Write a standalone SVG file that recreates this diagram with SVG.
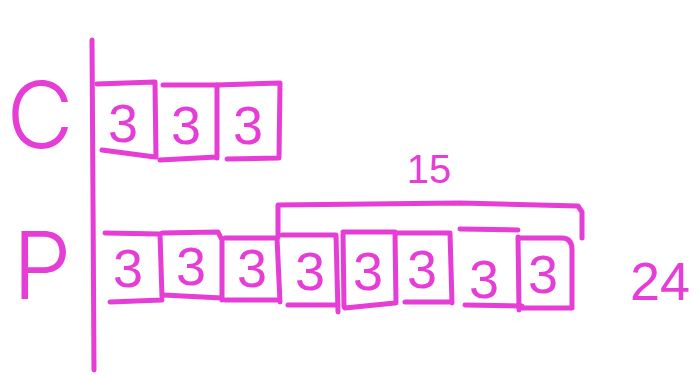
<svg xmlns="http://www.w3.org/2000/svg" width="700" height="375" viewBox="0 0 700 375">
<style>
.ln{fill:none;stroke:#e63dd6;stroke-width:5;stroke-linecap:round;stroke-linejoin:round}
.t{fill:#e63dd6;font-family:"Liberation Sans",Arial,sans-serif;text-anchor:middle}
.big{font-family:Inter,"Liberation Sans",sans-serif;font-weight:300}
.d{font-size:54px}
</style>
<rect width="700" height="375" fill="#fff"/>
<g id="labels">
<text class="t big" x="40" y="148" font-size="92">C</text>
<text class="t big" x="42" y="299" font-size="94">P</text>
<text class="t" x="429" y="183" font-size="40">15</text>
<text class="t" x="660" y="300" font-size="54">24</text>
</g>
<g id="axis">
<path class="ln" d="M92 40 L93 200 L94 370"/>
</g>
<g id="c-row">
<g id="c1"><path class="ln" d="M97 84 L155 82 L156 157 M102 150 L155 157"/><text class="t d" x="123" y="142">3</text></g>
<g id="c2"><path class="ln" d="M163 85 L217 85 L217 158 M160 160 L217 157"/><text class="t d" x="186" y="144">3</text></g>
<g id="c3"><path class="ln" d="M217 85 L280 83 L279 158 M227 159 L279 158"/><text class="t d" x="248" y="144">3</text></g>
</g>
<g id="p-row">
<g id="p1"><path class="ln" d="M105 233 L160 234 L162 297 M110 302 L162 300"/><text class="t d" x="128" y="287">3</text></g>
<g id="p2"><path class="ln" d="M162 233 L218 232 L222 240 L222 300 M163 295 L222 298"/><text class="t d" x="191" y="285">3</text></g>
<g id="p3"><path class="ln" d="M225 238 L277 238 L280 302 M225 300 L280 300"/><text class="t d" x="252" y="287">3</text></g>
<g id="p4"><path class="ln" d="M282 235 L336 235 L338 312 M288 305 L338 305"/><text class="t d" x="310" y="290">3</text></g>
<g id="p5"><path class="ln" d="M343 234 L344 307 M343 232 L395 232 L396 303 M345 308 L395 303"/><text class="t d" x="368" y="290">3</text></g>
<g id="p6"><path class="ln" d="M396 233 L450 233 L452 303 M405 302 L451 302"/><text class="t d" x="422" y="288">3</text></g>
<g id="p7"><path class="ln" d="M460 229 L518 230 M465 305 L522 306"/><text class="t d" x="484" y="298">3</text></g>
<g id="p8"><path class="ln" d="M518 237 L519 310 M518 238 L562 238 Q572 238 572 250 L572 308 M520 308 L572 308"/><text class="t d" x="543" y="293">3</text></g>
</g>
<g id="connectors">
<path class="ln" d="M278 237 L278 205 L460 203 L578 206 L582 212 L582 238"/>
</g>
</svg>
